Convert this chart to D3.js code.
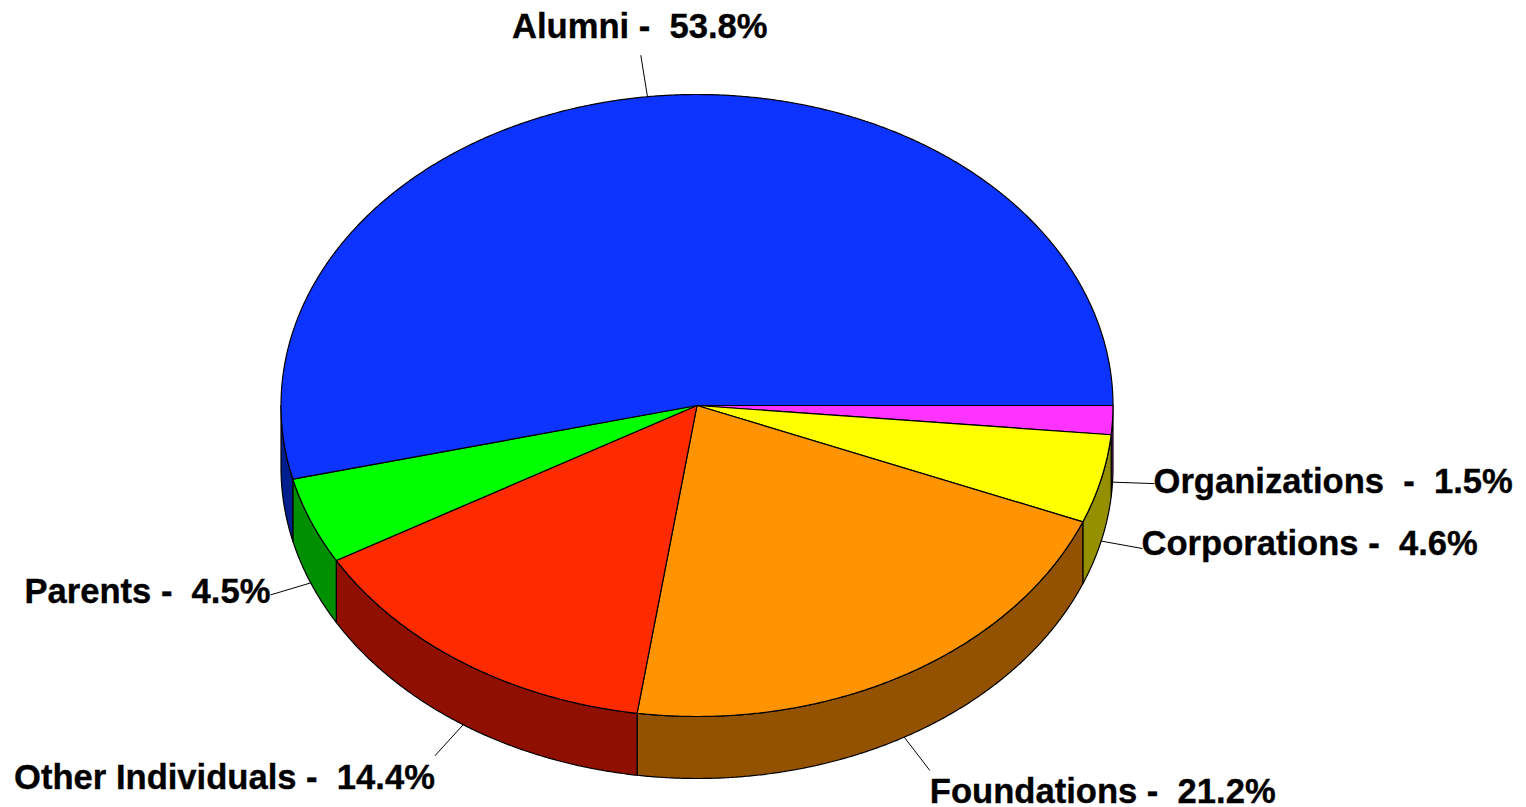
<!DOCTYPE html>
<html>
<head>
<meta charset="utf-8">
<script src="https://cdn.jsdelivr.net/npm/d3@7"></script>
<style>
html,body{margin:0;padding:0;background:#fff;overflow:hidden}
svg{display:block}
text{font-family:"Liberation Sans",Arial,sans-serif;font-weight:700;font-size:34.6px;fill:#000;stroke:#000;stroke-width:0.35px;white-space:pre}
</style>
</head>
<body>
<div id="chart"></div>
<script>
const categories = ["Organizations", "Corporations", "Foundations", "Other Individuals", "Parents", "Alumni"];
const values = [1.5, 4.6, 21.2, 14.4, 4.5, 53.8];
const labelSeparators = ["  -  ", " -  ", " -  ", " -  ", " -  ", " -  "];
const topColors = ["#ff33ff", "#ffff00", "#ff9400", "#ff2b00", "#00ff00", "#0d33ff"];
const wallColors = ["#942090", "#949000", "#925200", "#8f1000", "#008f00", "#001f8f"];

const width = 1526, height = 807;
const cx = 697, cy = 405.5, rx = 416, ry = 311, depth = 62, leader = 42;

const x = d3.scaleLinear().domain([-1, 1]).range([cx - rx, cx + rx]);
const y = d3.scaleLinear().domain([-1, 1]).range([cy + ry, cy - ry]);
const px = (a) => x(Math.sin(a));
const py = (a) => y(Math.cos(a));

const arcs = d3.pie().sort(null).value(d => d)
  .startAngle(Math.PI / 2).endAngle(Math.PI / 2 + 2 * Math.PI)(values);

const samples = (a0, a1) => {
  const n = Math.max(2, Math.ceil((a1 - a0) / 0.005));
  return d3.range(n + 1).map(i => a0 + (a1 - a0) * i / n);
};
const line = d3.line();

const svg = d3.select("#chart").append("svg").attr("width", width).attr("height", height);
svg.append("rect").attr("width", width).attr("height", height).attr("fill", "#fff");

// side walls: only the front half of the disc is visible
const gWalls = svg.append("g");
arcs.forEach((d, i) => {
  const a0 = Math.max(d.startAngle, Math.PI / 2);
  const a1 = Math.min(d.endAngle, 3 * Math.PI / 2);
  if (a1 <= a0) return;
  const angles = samples(a0, a1);
  const pts = angles.map(a => [px(a), py(a)])
    .concat(angles.slice().reverse().map(a => [px(a), py(a) + depth]));
  gWalls.append("path").attr("d", line(pts) + "Z")
    .attr("fill", wallColors[i]).attr("stroke", "#000").attr("stroke-width", 1.2)
    .attr("stroke-linejoin", "round");
});

// top faces
const gTop = svg.append("g");
arcs.forEach((d, i) => {
  const pts = [[cx, cy]].concat(samples(d.startAngle, d.endAngle).map(a => [px(a), py(a)]));
  gTop.append("path").attr("d", line(pts) + "Z")
    .attr("fill", topColors[i]).attr("stroke", "#000").attr("stroke-width", 1.2)
    .attr("stroke-linejoin", "round");
});

// leader lines and labels
const gLabels = svg.append("g");
arcs.forEach((d, i) => {
  const mid = (d.startAngle + d.endAngle) / 2;
  const sx = px(mid);
  const front = mid > Math.PI / 2 && mid < 3 * Math.PI / 2;
  const sy = py(mid) + (front ? depth : 0);
  const dx = rx * Math.sin(mid), dy = -ry * Math.cos(mid);
  const len = Math.hypot(dx, dy);
  const ux = dx / len, uy = dy / len;
  const ex = sx + ux * leader, ey = sy + uy * leader;
  gLabels.append("line")
    .attr("x1", sx).attr("y1", sy).attr("x2", ex).attr("y2", ey)
    .attr("stroke", "#000").attr("stroke-width", 1);
  let anchor, by, tx = ex;
  if (uy < -0.8) { anchor = "middle"; by = ey - 17; tx = ex - 1; }
  else if (uy > 0.5) { anchor = ux > 0 ? "start" : "end"; by = ey + 33; }
  else if (ux > 0) { anchor = "start"; by = ey + 9.5 - 15 * uy; tx = ex - 1; }
  else { anchor = "end"; by = ey + 8; }
  gLabels.append("text")
    .attr("x", tx).attr("y", by).attr("text-anchor", anchor)
    .text(categories[i] + labelSeparators[i] + values[i].toFixed(1) + "%");
});
</script>
</body>
</html>
